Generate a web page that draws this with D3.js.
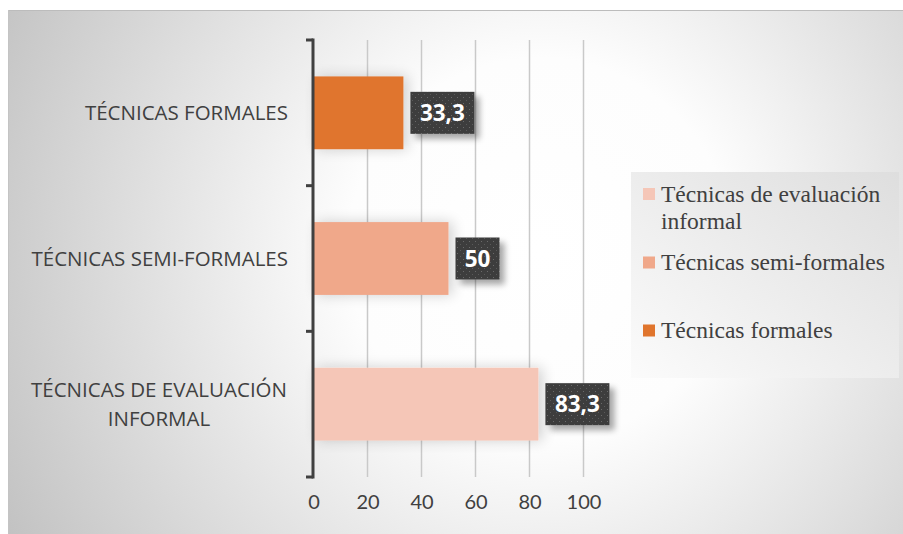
<!DOCTYPE html>
<html><head><meta charset="utf-8">
<script src="https://cdn.jsdelivr.net/npm/d3@7"></script>
<style>html,body{margin:0;padding:0;background:#fff;}svg{display:block;}</style>
</head><body>
<svg id="chart" width="903" height="534"></svg>
<script>
const categories = ["TÉCNICAS FORMALES", "TÉCNICAS SEMI-FORMALES", "TÉCNICAS DE EVALUACIÓN INFORMAL"];
const categoryLines = [["TÉCNICAS FORMALES"], ["TÉCNICAS SEMI-FORMALES"], ["TÉCNICAS DE EVALUACIÓN", "INFORMAL"]];
const values = [33.3, 50, 83.3];
const valueLabels = ["33,3", "50", "83,3"];
const barColors = ["#E0752D", "#F0A88A", "#F5C6B7"];
const legendNames = ["Técnicas de evaluación informal", "Técnicas semi-formales", "Técnicas formales"];
const legendLines = [["Técnicas de evaluación", "informal"], ["Técnicas semi-formales"], ["Técnicas formales"]];
const legendColors = ["#F5C6B7", "#F0A88A", "#E0752D"];
const xTicks = [0, 20, 40, 60, 80, 100];

const svg = d3.select("#chart");
const defs = svg.append("defs");

const bg = defs.append("radialGradient").attr("id","bg").attr("gradientUnits","userSpaceOnUse")
  .attr("cx",540).attr("cy",250).attr("r",640);
bg.append("stop").attr("offset","0").attr("stop-color","#ffffff");
bg.append("stop").attr("offset","0.3").attr("stop-color","#fdfdfd");
bg.append("stop").attr("offset","1").attr("stop-color","#bdbdbd");

const lg = defs.append("linearGradient").attr("id","lg").attr("x1","0").attr("y1","1").attr("x2","1").attr("y2","0");
lg.append("stop").attr("offset","0").attr("stop-color","#fbfbfb");
lg.append("stop").attr("offset","1").attr("stop-color","#dedede");

const sh = defs.append("filter").attr("id","barShadow").attr("x","-20%").attr("y","-40%").attr("width","150%").attr("height","180%");
sh.append("feGaussianBlur").attr("in","SourceAlpha").attr("stdDeviation",7).attr("result","b");
sh.append("feOffset").attr("in","b").attr("dx",4).attr("dy",0).attr("result","o");
sh.append("feComponentTransfer").attr("in","o").attr("result","s").append("feFuncA").attr("type","linear").attr("slope",0.18);
const m1 = sh.append("feMerge"); m1.append("feMergeNode").attr("in","s"); m1.append("feMergeNode").attr("in","SourceGraphic");

const lsh = defs.append("filter").attr("id","lblShadow").attr("x","-30%").attr("y","-30%").attr("width","170%").attr("height","170%");
lsh.append("feGaussianBlur").attr("in","SourceAlpha").attr("stdDeviation",3).attr("result","b");
lsh.append("feOffset").attr("in","b").attr("dx",5).attr("dy",5).attr("result","o");
lsh.append("feComponentTransfer").attr("in","o").attr("result","s").append("feFuncA").attr("type","linear").attr("slope",0.35);
const m2 = lsh.append("feMerge"); m2.append("feMergeNode").attr("in","s"); m2.append("feMergeNode").attr("in","SourceGraphic");

const pat = defs.append("pattern").attr("id","dots").attr("width",6).attr("height",6).attr("patternUnits","userSpaceOnUse");
pat.append("rect").attr("width",6).attr("height",6).attr("fill","#3d3d3d");
pat.append("rect").attr("x",1).attr("y",1).attr("width",1).attr("height",1).attr("fill","#6a6a6a");
pat.append("rect").attr("x",4).attr("y",4).attr("width",1).attr("height",1).attr("fill","#5a5a5a");

// chart area
svg.append("rect").attr("x",8).attr("y",10).attr("width",895).attr("height",524).attr("fill","url(#bg)");
svg.append("line").attr("x1",8).attr("x2",903).attr("y1",10.5).attr("y2",10.5).attr("stroke","#bcbcbc");
svg.append("line").attr("x1",8.5).attr("x2",8.5).attr("y1",10).attr("y2",534).attr("stroke","#c4c4c4");

const x = d3.scaleLinear().domain([0,100]).range([313.5,583.5]);
const y = d3.scaleBand().domain(categories).range([40,477]).paddingInner(0.5).paddingOuter(0.25);

// gridlines
svg.append("g").selectAll("line").data(xTicks.slice(1)).join("line")
  .attr("x1",d=>x(d)).attr("x2",d=>x(d)).attr("y1",40).attr("y2",477)
  .attr("stroke","#c9c9c9").attr("stroke-width",1.5);

// bars
svg.append("g").selectAll("rect").data(values).join("rect")
  .attr("x",x(0)).attr("y",(d,i)=>y(categories[i]))
  .attr("width",d=>x(d)-x(0)).attr("height",y.bandwidth())
  .attr("fill",(d,i)=>barColors[i]).attr("filter","url(#barShadow)");

// y axis
const yAxisG = svg.append("g").attr("transform","translate(313,0)");
const bandEdges = [40].concat(categories.map(c=>y(c)+y.bandwidth()+y.step()*0.25));
yAxisG.append("line").attr("x1",0).attr("x2",0).attr("y1",bandEdges[0]-1.5).attr("y2",bandEdges[3]+1.5)
  .attr("stroke","#404040").attr("stroke-width",3);
yAxisG.selectAll("line.t").data(bandEdges).join("line").attr("class","t")
  .attr("x1",-7).attr("x2",0).attr("y1",d=>d).attr("y2",d=>d).attr("stroke","#404040").attr("stroke-width",3);

// x tick labels
const xAxis = d3.axisBottom(x).tickValues(xTicks).tickSize(0).tickFormat(d3.format("d"));
const xg = svg.append("g").attr("transform","translate(0,490)").call(xAxis);
xg.select(".domain").remove();
xg.selectAll("text").attr("font-family","Lato, 'Open Sans', sans-serif").attr("font-size",20).attr("fill","#404040").attr("dy","0.8em");

// category labels
const catG = svg.append("g");
categoryLines.forEach((lines,i)=>{
  const cy = y(categories[i]) + y.bandwidth()/2;
  const t = catG.append("text").attr("font-family","'Open Sans', Lato, sans-serif").attr("font-size",20.5).attr("fill","#404040")
    .attr("text-anchor", lines.length>1 ? "middle" : "end");
  const lh = 29.5;
  lines.forEach((ln,j)=>{
    t.append("tspan").attr("x", lines.length>1 ? 159 : 288)
      .attr("y", cy + (j - (lines.length-1)/2)*lh).attr("dy","0.35em").text(ln);
  });
});

// data labels
const lblG = svg.append("g");
values.forEach((v,i)=>{
  const cy = y(categories[i]) + y.bandwidth()/2;
  const w = valueLabels[i].length > 2 ? 64 : 44;
  const g = lblG.append("g").attr("filter","url(#lblShadow)");
  g.append("rect").attr("x",x(v)+7).attr("y",cy-21).attr("width",w).attr("height",42).attr("fill","url(#dots)");
  lblG.append("text").attr("x",x(v)+7+w/2).attr("y",cy).attr("dy","0.36em").attr("text-anchor","middle")
    .attr("font-family","'Open Sans', Lato, sans-serif").attr("font-weight","bold").attr("font-size",22.5).attr("fill","#ffffff")
    .text(valueLabels[i]);
});

// legend
const leg = svg.append("g");
leg.append("rect").attr("x",631).attr("y",172).attr("width",268).attr("height",206).attr("fill","url(#lg)");
const legY = [201.5, 270, 338];
legendLines.forEach((lines,i)=>{
  leg.append("rect").attr("x",643).attr("y",legY[i]-13.5).attr("width",12).attr("height",12).attr("fill",legendColors[i]);
  const t = leg.append("text").attr("font-family","'Liberation Serif', 'Times New Roman', serif").attr("font-size",23.5).attr("fill","#404040");
  lines.forEach((ln,j)=>{ t.append("tspan").attr("x",661).attr("y",legY[i]+j*27).text(ln); });
});
</script>
</body></html>
